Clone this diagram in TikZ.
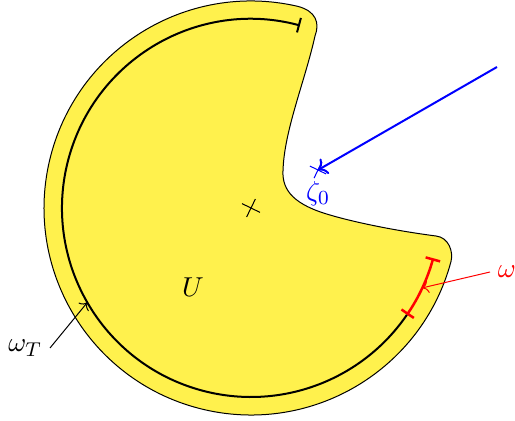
\documentclass[tikz,border=0pt]{standalone}
\usetikzlibrary{arrows.meta,calc}
\definecolor{fillyellow}{RGB}{255,241,77}
\begin{document}
\begin{tikzpicture}[x=0.4pt,y=0.4pt,
  boundary/.style={draw=black,thin,fill=fillyellow},
  crossmark/.style={thin},
  label/.style={inner sep=3pt,font=\fontsize{11}{13}\selectfont}]
\useasboundingbox (0,0) rectangle (515,421);
\coordinate (C) at (251,213);
% region U
\draw[boundary] (297.6,414.7) arc[start angle=77,end angle=345,radius=207]
  .. controls (453.5,169) and (449,183.5) .. (436,185)
  .. controls (390,191) and (350,200) .. (330,206)
  .. controls (295,216) and (282,230) .. (283,250)
  .. controls (284,290) and (305,340) .. (315,385)
  .. controls (320,398) and (316,410) .. cycle;
% boundary arcs
\draw[thick,{Bar[width=6pt]}-] ($(C)+(75:189)$) arc[start angle=75,end angle=325.6,radius=189];
\draw[red,line width=1pt,{Bar[width=6pt]}-{Bar[width=6pt]}] ($(C)+(325.6:189)$) arc[start angle=325.6,end angle=344.6,radius=189];
% centre cross
\draw[crossmark] ($(C)+(-26:10)$) -- ($(C)+(154:10)$);
\draw[crossmark] ($(C)+(64:10)$) -- ($(C)+(244:10)$);
% zeta0
\coordinate (Z) at (318,251);
\coordinate (Ztail) at (497,354);
\draw[blue,crossmark] ($(Z)+(-26:9)$) -- ($(Z)+(154:9)$);
\draw[blue,crossmark] ($(Z)+(64:9)$) -- ($(Z)+(244:9)$);
\draw[blue,thick,->] (Ztail) -- (Z);
\node[blue,label,inner sep=1pt,anchor=north] (zl) at (318,243) {$\zeta_0$};
% omega_T
\coordinate (wTtip) at ($(C)+(210:189)$);
\coordinate (wTtail) at (50,73);
\draw[->] (wTtail) -- (wTtip);
\node[label,anchor=east] (wT) at (wTtail) {$\omega_T$};
% omega
\coordinate (wtip) at ($(C)+(335:189)$);
\coordinate (wtail) at (490,149);
\draw[red,->] (wtail) -- (wtip);
\node[red,label,anchor=west] (w) at (wtail) {$\omega$};
% U
\node[label] (U) at (193,134) {$U$};
\end{tikzpicture}
\end{document}
